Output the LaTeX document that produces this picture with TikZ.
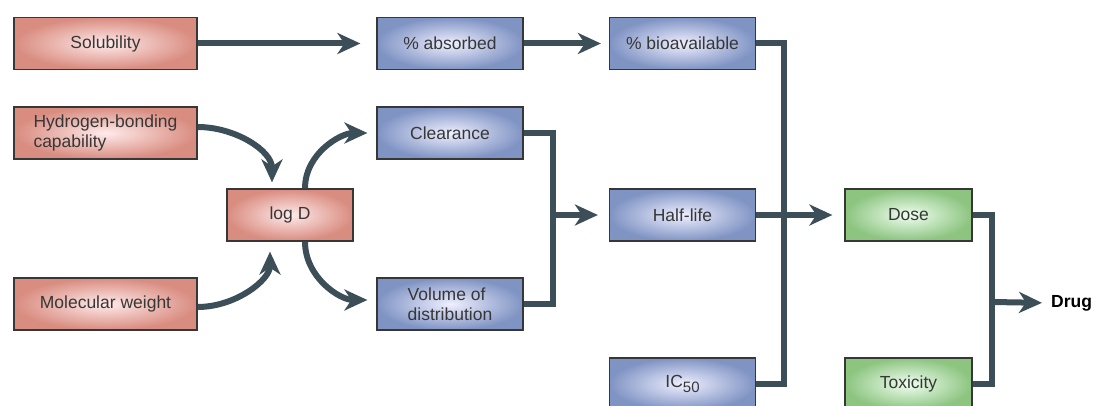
\documentclass[tikz,border=0pt]{standalone}
\usepackage{fontspec}
\setmainfont{Liberation Sans}
\usetikzlibrary{arrows.meta}
\definecolor{linegray}{RGB}{60,78,88}
\definecolor{textgray}{RGB}{55,55,55}
\begin{document}
\begin{tikzpicture}[x=1pt,y=-1pt,
        box/.style={draw=textgray, line width=1.2pt, inner sep=0pt, text=textgray,
            font=\fontsize{17.5}{20}\selectfont, minimum height=52pt},
        redbox/.style={box, inner color=red!8!white, outer color={rgb,255:red,217;green,140;blue,128}, minimum width=183pt},
        logbox/.style={box, inner color=red!8!white, outer color={rgb,255:red,217;green,140;blue,128}, minimum width=126pt},
        bluebox/.style={box, inner color=blue!6!white, outer color={rgb,255:red,128;green,148;blue,196}, minimum width=146pt},
        greenbox/.style={box, inner color=green!6!white, outer color={rgb,255:red,140;green,196;blue,128}, minimum width=127pt},
        link/.style={draw=linegray, line width=6pt},
        flow/.style={link, -{Stealth[length=23pt,width=21pt,inset=7pt]}}]
    \useasboundingbox (0,0) rectangle (1096,406);
    % inputs
    \node[redbox] (sol) at (105.5,43.5) {Solubility};
    \node[redbox, align=left] (hyd) at (105.5,133) {Hydrogen-bonding\\capability};
    \node[redbox] (mw) at (105.5,304) {Molecular weight};
    \node[logbox] (logd) at (290,215) {log D};
    % pharmacokinetics
    \node[bluebox] (abs) at (450,43.5) {\% absorbed};
    \node[bluebox] (clr) at (450,133) {Clearance};
    \node[bluebox, align=left] (vol) at (450,304) {Volume of\\distribution};
    \node[bluebox] (bio) at (682.5,43.5) {\% bioavailable};
    \node[bluebox] (half) at (682.5,215) {Half-life};
    \node[bluebox] (ic) at (682.5,384) {IC\raisebox{-0.45ex}{\fontsize{15}{15}\selectfont 50}};
    % outcome
    \node[greenbox] (dose) at (908.5,215) {Dose};
    \node[greenbox] (tox) at (908.5,384) {Toxicity};
    \node[anchor=west, inner sep=0pt, font=\fontsize{17.5}{20}\selectfont\bfseries] (drug) at (1051,303) {Drug};
    \coordinate (j1) at (553,215);
    \coordinate (j2) at (784,215);
    \coordinate (j3) at (992,302);
    % connectors
    \draw[flow, shorten >=16pt] (sol) -- (abs);
    \draw[flow, shorten >=8pt] (abs) -- (bio);
    \draw[flow, shorten >=6pt] ([yshift=6pt]hyd.east) to[out=0, in=90] ([xshift=-18pt]logd.north);
    \draw[flow, shorten >=10pt] ([yshift=-3pt]mw.east) to[out=0, in=-90] ([xshift=-20pt]logd.south);
    \draw[flow, shorten >=9pt] ([xshift=15pt]logd.north) to[out=90, in=180] (clr.west);
    \draw[flow, shorten >=9pt] ([xshift=15pt]logd.south) to[out=-90, in=180] ([yshift=4pt]vol.west);
    \draw[link] (clr.east) -| (j1);
    \draw[link] (vol.east) -| (j1);
    \draw[flow, shorten >=11pt] (j1) -- (half.west);
    \draw[link] (bio.east) -| (j2);
    \draw[link] (ic.east) -| (j2);
    \draw[flow, shorten >=12pt] (half.east) -- (dose.west);
    \draw[link] (dose.east) -| (j3);
    \draw[link] (tox.east) -| (j3);
    \draw[flow, shorten >=9pt] (j3) -- (drug.west);
\end{tikzpicture}
\end{document}
